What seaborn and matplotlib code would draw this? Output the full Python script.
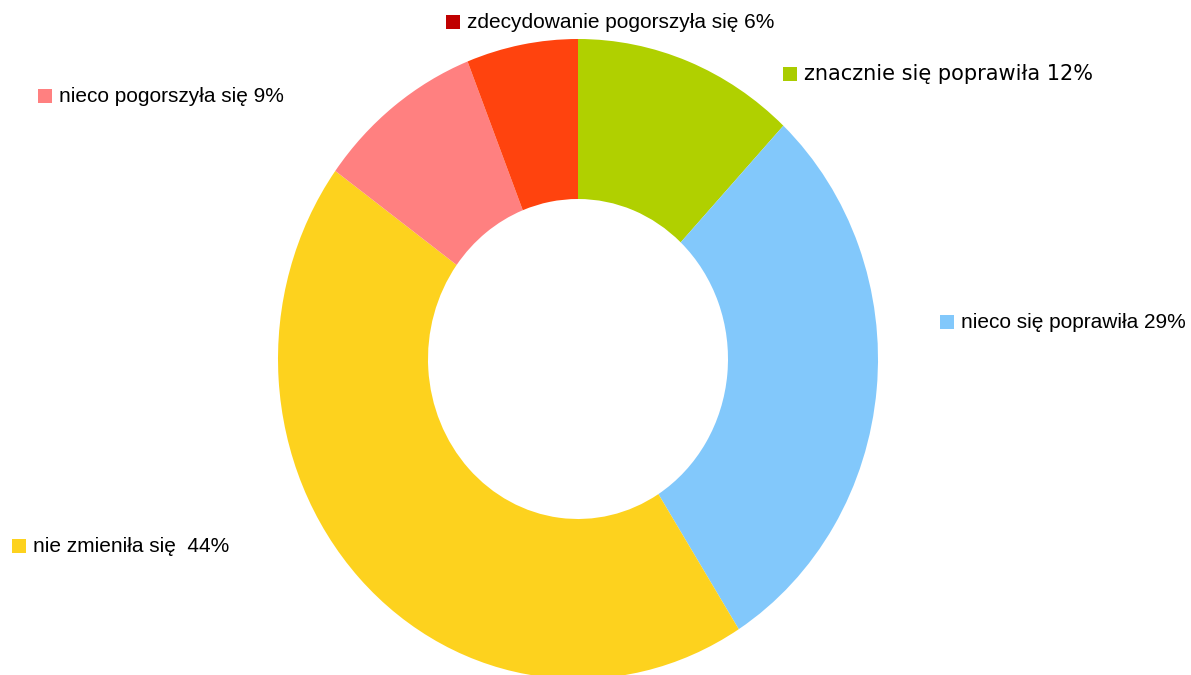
import matplotlib
matplotlib.use("Agg")
import matplotlib.pyplot as plt
from matplotlib.patches import Rectangle
import seaborn as sns

# Data (clockwise from 12 o'clock)
categories = ["znacznie się poprawiła", "nieco się poprawiła", "nie zmieniła się ",
              "nieco pogorszyła się", "zdecydowanie pogorszyła się"]
values = [12, 29, 44, 9, 6]
slice_colors = ["#B0D000", "#82C8FB", "#FDD21E", "#FF8080", "#FF430E"]
legend_colors = ["#AACC00", "#82C8FB", "#FDD21E", "#FF8080", "#C00000"]

sns.set_theme(style="white")
plt.rcParams['font.family'] = ['Liberation Sans', 'DejaVu Sans']

W, H = 1191, 675
fig = plt.figure(figsize=(W / 100, H / 100), dpi=100)
fig.patch.set_facecolor("white")

# Pie axes: ellipse box in pixels (x 278..878, y 39..679)
px_l, px_r, px_t, px_b = 278, 878, 39, 679
ax = fig.add_axes([px_l / W, (H - px_b) / H, (px_r - px_l) / W, (px_b - px_t) / H])
ax.pie(values, colors=slice_colors, startangle=90, counterclock=False,
       radius=1.0, wedgeprops=dict(width=0.5, linewidth=0))
ax.set_aspect('auto')
ax.set_xlim(-1, 1)
ax.set_ylim(-1, 1)
ax.axis('off')

# Overlay axes in pixel coordinates for labels
ov = fig.add_axes([0, 0, 1, 1])
ov.set_xlim(0, W)
ov.set_ylim(H, 0)
ov.axis('off')
ov.patch.set_alpha(0)

# label positions (square left x, center y), font family per label
label_pos = [(783, 74), (940, 322), (12, 546), (38, 96), (446, 22)]
label_fonts = [['DejaVu Sans'], ['Liberation Sans', 'DejaVu Sans'],
               ['Liberation Sans', 'DejaVu Sans'], ['Liberation Sans', 'DejaVu Sans'],
               ['Liberation Sans', 'DejaVu Sans']]
sq = 14
for cat, val, col, (x, y), fam in zip(categories, values, legend_colors, label_pos, label_fonts):
    ov.add_patch(Rectangle((x, y - sq / 2), sq, sq, facecolor=col, edgecolor='none'))
    ov.text(x + sq + 7, y, f"{cat} {val}%", fontsize=15, color="black",
            va='center', ha='left', family=fam)

fig.savefig("out.png", dpi=100, facecolor="white")
